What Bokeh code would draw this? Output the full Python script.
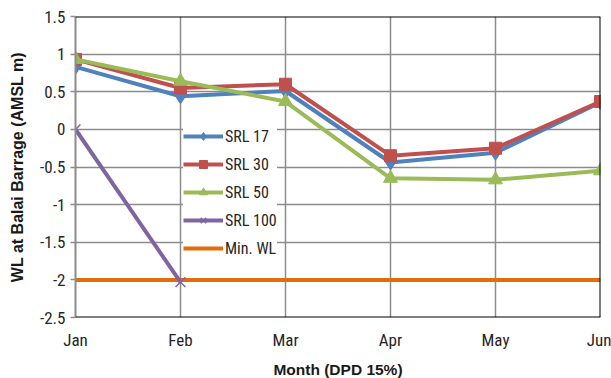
from bokeh.plotting import figure
from bokeh.models import Range1d, FixedTicker, Span, Legend
from bokeh.embed import file_html
from bokeh.resources import INLINE

# Monthly water level at Balai Barrage for each sea-level-rise scenario
months = ["Jan", "Feb", "Mar", "Apr", "May", "Jun"]
srl17 = [0.83, 0.44, 0.51, -0.44, -0.31, 0.36]
srl30 = [0.93, 0.55, 0.60, -0.35, -0.25, 0.37]
srl50 = [0.93, 0.64, 0.37, -0.65, -0.67, -0.55]
srl100 = [0.0, -2.03]
min_wl = [-2.0, -2.0, -2.0, -2.0, -2.0, -2.0]
y_ticks = [-2.5, -2.0, -1.5, -1.0, -0.5, 0.0, 0.5, 1.0, 1.5]

NARROW = "'Roboto Condensed', 'Liberation Sans Narrow', 'Arial Narrow', Roboto, sans-serif"
TITLE = "'Liberation Sans', Arial, sans-serif"
GRID = "#8c8c8c"

xs = list(range(len(months)))

p = figure(frame_width=525, frame_height=301, output_backend="svg", toolbar_location=None,
           x_range=Range1d(0, len(months) - 1), y_range=Range1d(-2.5, 1.5),
           min_border_left=75, min_border_right=11, min_border_top=16,
           min_border_bottom=61)
p.outline_line_color = None
p.background_fill_color = "white"
p.border_fill_color = "white"

# gridlines
p.xgrid.ticker = FixedTicker(ticks=xs)
p.ygrid.ticker = FixedTicker(ticks=y_ticks)
for g in (p.xgrid, p.ygrid):
    g.grid_line_color = GRID
    g.grid_line_width = 1.5

# axes
xa = p.xaxis[0]
xa.ticker = FixedTicker(ticks=xs)
xa.major_label_overrides = {i: m for i, m in enumerate(months)}
xa.axis_line_color = None
xa.major_tick_line_color = None
xa.minor_tick_line_color = None
xa.major_tick_in = 0
xa.major_tick_out = 0
xa.major_label_standoff = 12
xa.axis_label = "Month (DPD 15%)"

ya = p.yaxis[0]
ya.ticker = FixedTicker(ticks=y_ticks)
ya.major_label_overrides = {v: ("%g" % v) for v in y_ticks}
ya.axis_line_color = GRID
ya.axis_line_width = 2
ya.major_tick_line_color = GRID
ya.major_tick_line_width = 1.5
ya.major_tick_in = 0
ya.major_tick_out = 5
ya.minor_tick_line_color = None
ya.major_label_standoff = 5
ya.axis_label = "WL at Balai Barrage (AMSL m)"

for ax in (xa, ya):
    ax.major_label_text_font = NARROW
    ax.major_label_text_font_size = "17px"
    ax.major_label_text_color = "#262626"
    ax.axis_label_text_font = TITLE
    ax.axis_label_text_font_style = "bold"
    ax.axis_label_text_color = "#1a1a1a"
xa.axis_label_text_font_size = "15.5px"
ya.axis_label_text_font_size = "16px"
xa.axis_label_standoff = 8
ya.axis_label_standoff = 11

# plot-area border: black on top, right and bottom
for loc in (1.5, -2.5):
    p.add_layout(Span(location=loc, dimension="width", line_color="black", line_width=2))
p.add_layout(Span(location=len(months) - 1, dimension="height",
                  line_color="black", line_width=2))

legend = Legend(items=[], location=(108, 59))
p.add_layout(legend)

BLUE, RED, GREEN, PURPLE, ORANGE = "#4F81BD", "#C0504D", "#9BBB59", "#8064A2", "#E46C0A"

p.line(xs, min_wl, line_color=ORANGE, line_width=4, legend_label="Min. WL")

p.line(xs, srl17, line_color=BLUE, line_width=4, legend_label="SRL 17")
p.scatter(xs, srl17, marker="diamond", size=15, color=BLUE, legend_label="SRL 17")

p.line(xs, srl30, line_color=RED, line_width=4, legend_label="SRL 30")
p.scatter(xs, srl30, marker="square", size=12, color=RED, legend_label="SRL 30")

p.line(xs, srl50, line_color=GREEN, line_width=4, legend_label="SRL 50")
p.scatter(xs, srl50, marker="triangle", size=14, color=GREEN, legend_label="SRL 50")

p.line(xs[:len(srl100)], srl100, line_color=PURPLE, line_width=4, legend_label="SRL 100")
p.scatter(xs[:len(srl100)], srl100, marker="x", size=14, line_width=1.5,
          color=PURPLE, legend_label="SRL 100")

# order legend entries as in the series list
order = ["SRL 17", "SRL 30", "SRL 50", "SRL 100", "Min. WL"]
legend.items = sorted(legend.items, key=lambda it: order.index(it.label.value))
legend.background_fill_color = "white"
legend.background_fill_alpha = 1.0
legend.border_line_color = None
legend.label_text_font = NARROW
legend.label_text_font_size = "16px"
legend.label_text_color = "#262626"
legend.glyph_width = 40
legend.glyph_height = 20
legend.label_height = 20
legend.spacing = 8
legend.padding = 8
legend.margin = 0
legend.label_standoff = 2

open("out.html", "w").write(file_html(p, INLINE))
